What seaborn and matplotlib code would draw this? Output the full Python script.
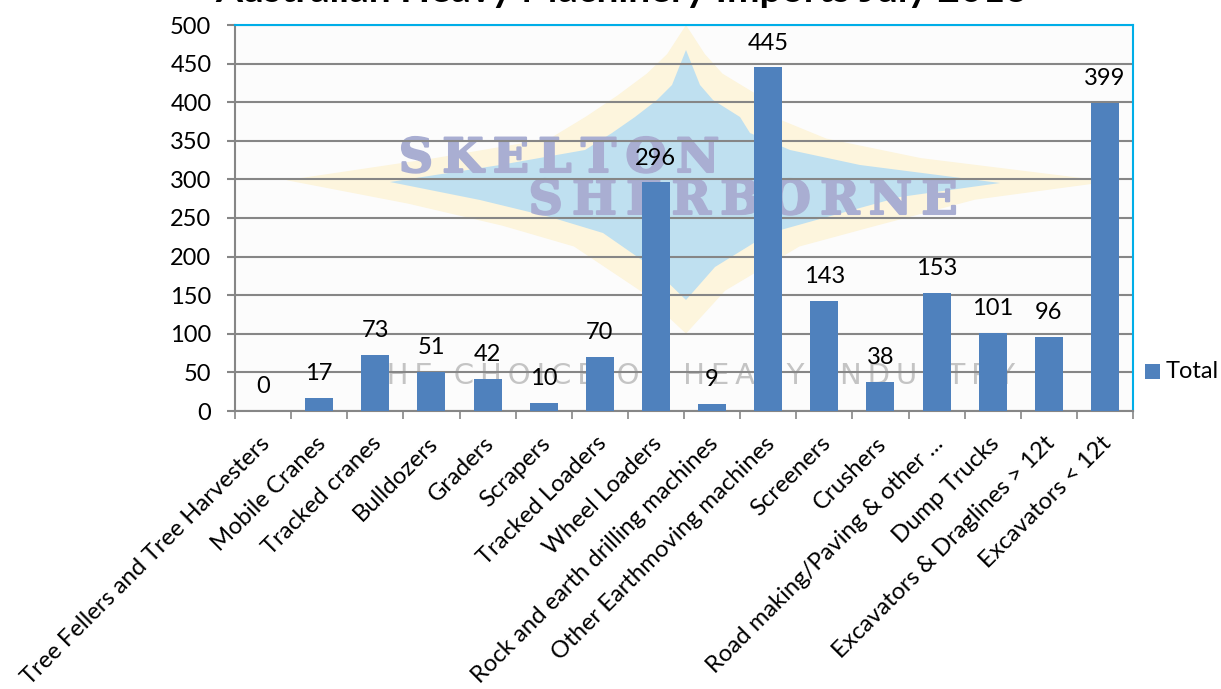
import matplotlib
matplotlib.use('Agg')
import matplotlib.pyplot as plt
from matplotlib.patches import Polygon, Rectangle
from matplotlib.transforms import ScaledTranslation
import matplotlib.patheffects as pe
import pandas as pd
import seaborn as sns

categories = ['Tree Fellers and Tree Harvesters', 'Mobile Cranes', 'Tracked cranes', 'Bulldozers',
              'Graders', 'Scrapers', 'Tracked Loaders', 'Wheel Loaders',
              'Rock and earth drilling machines', 'Other Earthmoving machines', 'Screeners', 'Crushers',
              'Road making/Paving & other ...', 'Dump Trucks', 'Excavators & Draglines > 12t', 'Excavators < 12t']
totals = [0, 17, 73, 51, 42, 10, 70, 296, 9, 445, 143, 38, 153, 101, 96, 399]
yticks = list(range(0, 501, 50))

W, H = 1221, 689
BLUE = '#4f81bd'
GREY = '#868686'
LOGO = '#a9aed2'
THIN = '\u2009'

sns.set_theme(style='white')
plt.rcParams['font.family'] = ['Lato', 'DejaVu Sans']

df = pd.DataFrame({'Machine': categories, 'Total': totals})

fig = plt.figure(figsize=(W / 100, H / 100), dpi=100, facecolor='white')

# watermark sits behind the chart, in pixel coords
star = [(686, 50), (700, 85), (713, 100), (740, 117), (750, 133), (790, 150), (860, 165), (1000, 183),
        (900, 197), (827, 217), (770, 233), (715, 267), (686, 300), (652, 267), (603, 233), (550, 217),
        (480, 200), (390, 182), (500, 165), (585, 150), (612, 133), (635, 117), (657, 100), (672, 85)]
glow = [(686 + (x - 686) * 1.35, max(25, 188 + (y - 188) * 1.3)) for x, y in star]

bg = fig.add_axes([0, 0, 1, 1], zorder=0)
bg.set_xlim(0, W)
bg.set_ylim(H, 0)
bg.axis('off')
bg.add_patch(Rectangle((235, 25), 898, 386, fc='#fcfcfc', ec='none'))
bg.add_patch(Polygon(glow, closed=True, fc='#fdf5dd', ec='none'))
bg.add_patch(Polygon(star, closed=True, fc='#bfe0f0', ec='none'))
logo_fx = [pe.withStroke(linewidth=1.5, foreground=LOGO)]
bg.text(559, 159, THIN.join('SKELTON'), family='DejaVu Serif', weight='bold', fontsize=34, color=LOGO,
        ha='center', va='center', path_effects=logo_fx)
bg.text(743, 201, THIN.join('SHERBORNE'), family='DejaVu Serif', weight='bold', fontsize=34, color=LOGO,
        ha='center', va='center', path_effects=logo_fx)
bg.text(689, 376, THIN.join('THE CHOICE OF HEAVY INDUSTRY'), family='DejaVu Sans', fontsize=21,
        color='#c4c4c4', ha='center', va='center')

ax = fig.add_axes([235 / W, 1 - 411 / H, 898 / W, 386 / H], zorder=1)
ax.patch.set_alpha(0)
sns.barplot(data=df, x='Machine', y='Total', color=BLUE, saturation=1, width=0.5, linewidth=0, ax=ax, zorder=3)

ax.set_xlim(-0.5, len(categories) - 0.5)
ax.set_ylim(0, 500)
ax.set_yticks(yticks)
ax.set_xlabel('')
ax.set_ylabel('')
ax.grid(axis='y', color=GREY, lw=1.5, zorder=1)
ax.set_axisbelow(True)

for side in ['top', 'right']:
    ax.spines[side].set_color('#00aee8')
    ax.spines[side].set_linewidth(1.5)
for side in ['left', 'bottom']:
    ax.spines[side].set_color(GREY)
    ax.spines[side].set_linewidth(1.5)

ax.set_xticks([i - 0.5 for i in range(len(categories) + 1)], minor=True)
ax.tick_params(axis='x', which='minor', length=6, width=1.2, color=GREY, bottom=True)
ax.tick_params(axis='x', which='major', length=0, pad=21)
ax.tick_params(axis='y', length=6, width=1.5, color=GREY, left=True, labelsize=17, pad=11, labelcolor='black')
ax.set_xticks(range(len(categories)))
ax.set_xticklabels(categories, rotation=45, ha='right', va='center', rotation_mode='anchor',
                   fontsize=17.2, color='black')
nudge = ScaledTranslation(3 / 100, 0, fig.dpi_scale_trans)
for label in ax.get_xticklabels():
    label.set_transform(label.get_transform() + nudge)

for i, v in enumerate(totals):
    ax.annotate(str(v), (i, v), xytext=(0, 10), textcoords='offset points', ha='center', va='bottom',
                fontsize=17, color='black', zorder=5)

fig.text(622 / W, 1 - 2 / H, 'Australian Heavy Machinery Imports July 2013', ha='center', va='baseline',
         fontsize=28, weight='bold', color='black')

fig.patches.append(Rectangle((1145 / W, 1 - 379 / H), 15 / W, 15 / H, transform=fig.transFigure,
                             fc=BLUE, ec='none'))
fig.text(1166 / W, 1 - 371 / H, 'Total', ha='left', va='center', fontsize=17, color='black')

fig.text(620 / W, 1 - 697 / H, 'Bannerman & Bell and Skelton Sherborne "The Choice of Heavy Industry"',
         ha='center', va='center', fontsize=13.9, color='#555555', family='Liberation Sans')

fig.savefig('out.png', dpi=100)
